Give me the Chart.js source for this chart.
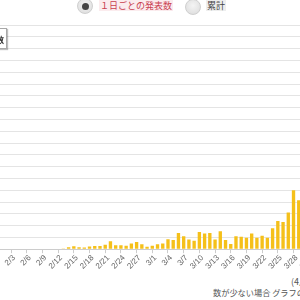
<!DOCTYPE html>
<html><head><meta charset="utf-8">
<script src="https://cdn.jsdelivr.net/npm/chart.js@4"></script>
<style>
html,body{margin:0;padding:0;width:300px;height:300px;overflow:hidden;background:#fff;}
body{position:relative;font-family:"Noto Sans CJK JP","Noto Sans",sans-serif;}
#c{position:absolute;left:0;top:0;}
.radio{position:absolute;width:16px;height:16px;border-radius:50%;box-sizing:border-box;border:1px solid #cfcfcf;background:radial-gradient(circle at 50% 40%,#f4f4f4 0%,#e2e2e2 70%,#d4d4d4 100%);}
.radio .dot{position:absolute;left:3.5px;top:3.5px;width:7px;height:7px;border-radius:50%;background:#454545;}
.lab{position:absolute;font-size:9px;line-height:11px;white-space:nowrap;padding:0 1px;}
#leg{position:absolute;left:-50px;top:28px;width:57px;height:21px;border:1px solid #a8a8a8;box-shadow:1px 1px 1px rgba(0,0,0,0.25);background:#fff;font-size:8px;line-height:21px;text-align:right;padding-right:2px;box-sizing:border-box;color:#333;font-weight:bold;white-space:nowrap;}
.note{position:absolute;white-space:nowrap;color:#555;}
</style></head><body>
<canvas id="c"></canvas>
<div class="radio" style="left:77px;top:-2px;"><div class="dot"></div></div>
<div class="lab" style="left:99px;top:0px;color:#c9404f;background:#fbecee;">１日ごとの発表数</div>
<div class="radio" style="left:184.5px;top:-1.5px;"></div>
<div class="lab" style="left:206px;top:0px;color:#444;background:#eeeeee;">累計</div>
<div id="leg">発表数</div>
<div class="note" style="left:291px;top:275px;font-size:9px;">(4月1日時点)</div>
<div class="note" style="left:213px;top:286px;font-size:8.2px;">数が少ない場合 グラフの表示が見えにくいことがあります</div>
<script>
const categories = [
 '2/1','2/2','2/3','2/4','2/5','2/6','2/7','2/8','2/9','2/10','2/11','2/12','2/13','2/14','2/15',
 '2/16','2/17','2/18','2/19','2/20','2/21','2/22','2/23','2/24','2/25','2/26','2/27','2/28','2/29',
 '3/1','3/2','3/3','3/4','3/5','3/6','3/7','3/8','3/9','3/10','3/11','3/12','3/13','3/14','3/15',
 '3/16','3/17','3/18','3/19','3/20','3/21','3/22','3/23','3/24','3/25','3/26','3/27','3/28','3/29',
 '3/30','3/31'
];
const dailyCounts = [
 0,0,0,0,0,0,0,0,0,0,0,0,2,7,10,
 7,6,9,11,11,15,27,13,13,12,19,24,17,8,
 12,17,19,34,31,55,44,33,29,58,53,55,33,61,31,
 18,44,42,39,53,39,46,39,71,96,92,124,200,166,
 null,null
];
const yMax = 760;
const yStep = 40;
const firstLabelIndex = 2;   // 2/3
const labelEvery = 3;

// layout of the plot area on the page
const PLOT_LEFT = -1.6, PLOT_RIGHT = 313.4, PLOT_TOP = 25, PLOT_BOTTOM = 249;

const canvas = document.getElementById('c');
function makeChart(w, h) {
  canvas.width = w; canvas.height = h;
  canvas.style.width = w + 'px'; canvas.style.height = h + 'px';
  return new Chart(canvas, {
    type: 'bar',
    data: {
      labels: categories,
      datasets: [{
        data: dailyCounts,
        backgroundColor: '#f5c01a',
        borderWidth: 0,
        categoryPercentage: 0.8,
        barPercentage: 0.8
      }]
    },
    options: {
      responsive: false,
      maintainAspectRatio: false,
      animation: false,
      devicePixelRatio: 1,
      layout: { padding: 0 },
      plugins: { legend: { display: false }, tooltip: { enabled: false } },
      scales: {
        x: {
          offset: true,
          grid: { drawOnChartArea: false, drawTicks: true, tickLength: 4, color: '#cccccc', offset: false },
          border: { display: true, color: '#cccccc' },
          ticks: {
            autoSkip: false, minRotation: 45, maxRotation: 45, padding: 0, labelOffset: 3,
            color: '#666', font: { size: 8, family: '"Liberation Sans", Arial, sans-serif' },
            callback: (v, i) => ((i - firstLabelIndex) % labelEvery === 0 && i >= firstLabelIndex) ? categories[i] : null
          }
        },
        y: {
          min: 0, max: yMax,
          ticks: { display: false, stepSize: yStep },
          grid: { color: '#e4e4e4', drawTicks: false },
          border: { display: false }
        }
      }
    }
  });
}
let W0 = 400, H0 = 300;
let chart = makeChart(W0, H0);
let ca = chart.chartArea;
const W1 = Math.round(W0 + (PLOT_RIGHT - PLOT_LEFT) - (ca.right - ca.left));
const H1 = Math.round(H0 + (PLOT_BOTTOM - PLOT_TOP) - (ca.bottom - ca.top));
chart.destroy();
chart = makeChart(W1, H1);
ca = chart.chartArea;
canvas.style.left = (PLOT_LEFT - ca.left) + 'px';
canvas.style.top = (PLOT_TOP - ca.top) + 'px';
</script>
</body></html>
